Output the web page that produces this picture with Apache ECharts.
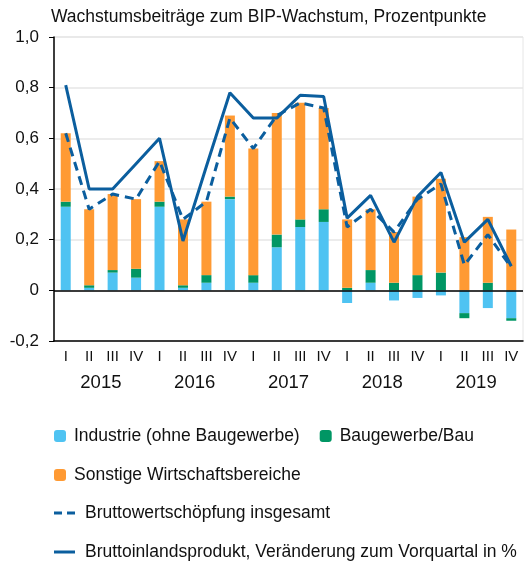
<!DOCTYPE html>
<html>
<head>
<meta charset="utf-8">
<script src="https://cdn.jsdelivr.net/npm/echarts@6/dist/echarts.min.js"></script>
<style>
  html, body { margin: 0; padding: 0; background: #fff; }
  #chart { width: 524px; height: 562px; }
</style>
</head>
<body>
<div id="chart"></div>
<script>
const quarters = ['I', 'II', 'III', 'IV', 'I', 'II', 'III', 'IV', 'I', 'II', 'III', 'IV',
  'I', 'II', 'III', 'IV', 'I', 'II', 'III', 'IV']
const years = ['2015', '2016', '2017', '2018', '2019']

const industrie = [0.33, 0.01, 0.07, 0.05, 0.33, 0.01, 0.03, 0.36, 0.03, 0.17, 0.25, 0.27,
  -0.05, 0.03, -0.04, -0.03, -0.02, -0.09, -0.07, -0.11]
const bau = [0.02, 0.01, 0.01, 0.035, 0.02, 0.01, 0.03, 0.01, 0.03, 0.05, 0.03, 0.05,
  0.01, 0.05, 0.03, 0.06, 0.07, -0.02, 0.03, -0.01]
const sonstige = [0.27, 0.3, 0.3, 0.275, 0.16, 0.26, 0.29, 0.32, 0.5, 0.48, 0.46, 0.4,
  0.27, 0.24, 0.2, 0.31, 0.37, 0.21, 0.26, 0.24]
const bws = [0.62, 0.32, 0.38, 0.36, 0.51, 0.28, 0.35, 0.68, 0.56, 0.69, 0.74, 0.72,
  0.25, 0.32, 0.23, 0.36, 0.42, 0.1, 0.22, 0.09]
const bip = [0.81, 0.4, 0.4, 0.5, 0.6, 0.195, 0.49, 0.78, 0.68, 0.68, 0.77, 0.765,
  0.285, 0.375, 0.19, 0.37, 0.465, 0.19, 0.28, 0.095]

const FONT = 'Liberation Sans'
const BLUE_LINE = '#0B5E9E'

const chart = echarts.init(document.getElementById('chart'))

const legendBase = {
  left: 49,
  orient: 'horizontal',
  itemGap: 20,
  textStyle: { fontFamily: FONT, fontSize: 17.5, color: '#111', padding: [0, 0, 0, 3] },
}

// line icons for the legend (no markers)
const DASH_ICON = 'path://M0,0H8V3H0Z M13,0H21V3H13Z'
const SOLID_ICON = 'path://M0,0H21V3H0Z'

chart.setOption({
  animation: false,
  backgroundColor: '#fff',
  textStyle: { fontFamily: FONT },
  title: {
    text: 'Wachstumsbeiträge zum BIP-Wachstum, Prozentpunkte',
    left: 46,
    top: 3,
    textStyle: { fontFamily: FONT, fontSize: 17.5, fontWeight: 'normal', color: '#111' },
  },
  legend: [
    { ...legendBase, top: 422, itemWidth: 12, itemHeight: 12, data: ['Industrie (ohne Baugewerbe)', 'Baugewerbe/Bau'] },
    { ...legendBase, top: 461, itemWidth: 12, itemHeight: 12, data: ['Sonstige Wirtschaftsbereiche'] },
    {
      ...legendBase, top: 499, itemWidth: 21, itemHeight: 3,
      textStyle: { ...legendBase.textStyle, padding: [0, 0, 0, 5] },
      data: [{ name: 'Bruttowertschöpfung insgesamt', icon: DASH_ICON }],
    },
    {
      ...legendBase, top: 538, itemWidth: 21, itemHeight: 3,
      textStyle: { ...legendBase.textStyle, padding: [0, 0, 0, 5] },
      data: [{ name: 'Bruttoinlandsprodukt, Veränderung zum Vorquartal in %', icon: SOLID_ICON }],
    },
  ],
  grid: {
    left: 54,
    right: 1,
    top: 37,
    bottom: 221,
    show: true,
    borderColor: '#e6e6e6',
    borderWidth: 1,
  },
  xAxis: [
    {
      type: 'category',
      data: quarters,
      position: 'bottom',
      axisLine: { onZero: false, lineStyle: { color: '#000', width: 1.5 } },
      axisTick: { length: 28, interval: 0, lineStyle: { color: '#000', width: 1.2 } },
      axisLabel: { margin: 8, fontSize: 15, color: '#111', fontFamily: FONT, interval: 0 },
      splitLine: { show: false },
    },
    {
      type: 'category',
      data: years,
      position: 'bottom',
      axisLine: { show: false, onZero: false },
      axisTick: { length: 58, interval: 0, lineStyle: { color: '#000', width: 1.2 } },
      axisLabel: { margin: 32, fontSize: 18.5, color: '#111', fontFamily: FONT },
      splitLine: { show: false },
    },
  ],
  yAxis: {
    type: 'value',
    min: -0.2,
    max: 1.0,
    interval: 0.2,
    axisLine: { show: true, lineStyle: { color: '#000', width: 1.5 } },
    axisTick: { show: true, length: 5, lineStyle: { color: '#000' } },
    axisLabel: {
      margin: 15,
      fontSize: 17,
      color: '#111',
      fontFamily: FONT,
      formatter: (v) => (Math.abs(v) < 1e-9 ? '0' : v.toFixed(1).replace('.', ',')),
    },
    splitLine: { lineStyle: { color: '#e6e6e6', width: 1.5 } },
  },
  series: [
    {
      name: 'Industrie (ohne Baugewerbe)',
      type: 'bar',
      stack: 'wb',
      barWidth: 10,
      data: industrie,
      itemStyle: { color: '#4FC3F2' },
      markLine: {
        silent: true,
        symbol: 'none',
        label: { show: false },
        lineStyle: { color: '#000', type: 'solid', width: 1.5 },
        data: [{ yAxis: 0 }],
      },
    },
    {
      name: 'Baugewerbe/Bau',
      type: 'bar',
      stack: 'wb',
      barWidth: 10,
      data: bau,
      itemStyle: { color: '#009664' },
    },
    {
      name: 'Sonstige Wirtschaftsbereiche',
      type: 'bar',
      stack: 'wb',
      barWidth: 10,
      data: sonstige,
      itemStyle: { color: '#FF9A33' },
    },
    {
      name: 'Bruttowertschöpfung insgesamt',
      type: 'line',
      data: bws,
      symbol: 'none',
      z: 5,
      lineStyle: { color: BLUE_LINE, width: 3, type: [9, 6] },
      itemStyle: { color: BLUE_LINE },
    },
    {
      name: 'Bruttoinlandsprodukt, Veränderung zum Vorquartal in %',
      type: 'line',
      data: bip,
      symbol: 'none',
      z: 6,
      lineStyle: { color: BLUE_LINE, width: 3 },
      itemStyle: { color: BLUE_LINE },
    },
  ],
})
</script>
</body>
</html>
